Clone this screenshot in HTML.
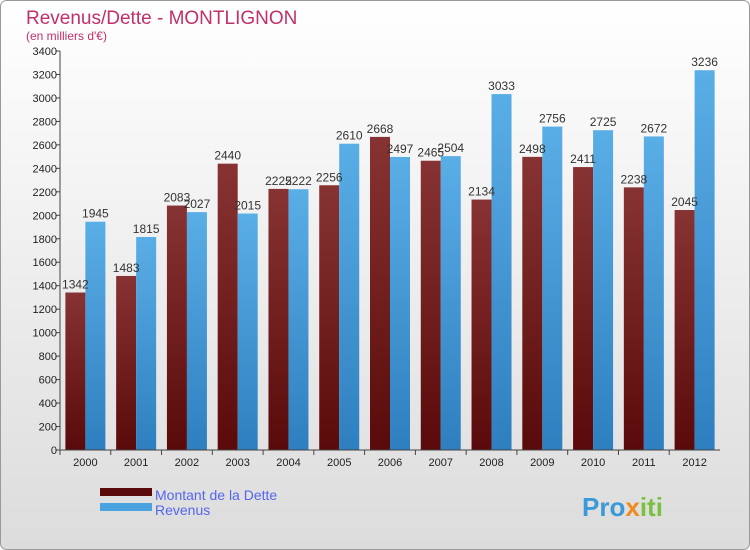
<!DOCTYPE html>
<html><head><meta charset="utf-8"><style>
body{margin:0;background:#fff}
svg{display:block;font-family:"Liberation Sans",sans-serif}
</style></head><body>
<svg id="chart" width="750" height="550">
<defs>
<linearGradient id="bg" x1="0" y1="0" x2="0" y2="1"><stop offset="0" stop-color="#ffffff"/><stop offset="1" stop-color="#dcdcdc"/></linearGradient>
<linearGradient id="red" x1="0" y1="0" x2="0" y2="1"><stop offset="0" stop-color="#873333"/><stop offset="1" stop-color="#5a0a0a"/></linearGradient>
<linearGradient id="blue" x1="0" y1="0" x2="0" y2="1"><stop offset="0" stop-color="#5aaee6"/><stop offset="1" stop-color="#2e7fbf"/></linearGradient>
</defs>
<rect x="0.5" y="0.5" width="749" height="549" rx="6" fill="url(#bg)" stroke="#999"/>
<text x="26" y="24" font-size="19" fill="#c0306a">Revenus/Dette - MONTLIGNON</text>
<text x="26" y="40" font-size="12" fill="#c0306a">(en milliers d'€)</text>
<g id="plot"></g>
<rect x="100" y="488" width="52" height="8" fill="#5a0a0a"/>
<text x="155" y="500" font-size="14" fill="#5566ee">Montant de la Dette</text>
<rect x="100" y="503" width="52" height="8" fill="#4aa3e0"/>
<text x="155" y="515" font-size="14" fill="#5566ee">Revenus</text>
<text x="582" y="516" font-size="26" font-weight="bold" fill="#3a9ad9">Pro<tspan fill="#f08a1c">x</tspan><tspan fill="#7ac143">iti</tspan></text>
</svg>
<script>
const years=["2000","2001","2002","2003","2004","2005","2006","2007","2008","2009","2010","2011","2012"];
const dette=[1342,1483,2083,2440,2225,2256,2668,2465,2134,2498,2411,2238,2045];
const revenus=[1945,1815,2027,2015,2222,2610,2497,2504,3033,2756,2725,2672,3236];
const yTicks=[0,200,400,600,800,1000,1200,1400,1600,1800,2000,2200,2400,2600,2800,3000,3200,3400];
const NS="http://www.w3.org/2000/svg";
const g=document.getElementById('plot');
const x0=60,x1=720,y0=450,y1=51,ymax=3400;
const y=v=>y0-(v/ymax)*(y0-y1);
const step=(x1-x0)/years.length;
const cx=i=>x0+step*(i+0.5);
function mk(t,a){const e=document.createElementNS(NS,t);for(const k in a)e.setAttribute(k,a[k]);g.appendChild(e);return e;}
let ax=mk('line',{x1:x0,y1:y1,x2:x0,y2:y0,stroke:'#444'});


yTicks.forEach(v=>{
 const t=mk('line',{x1:x0-4,x2:x0,y1:y(v),y2:y(v),stroke:'#444'});
 
 
 const l=mk('text',{x:x0-3,y:y(v)+4,'font-size':11,'text-anchor':'end',fill:'#222'});l.textContent=v;
 
 
});
years.forEach((yr,i)=>{
 const c=cx(i),bw=20;
 const r1=mk('rect',{x:c-bw,y:y(dette[i]),width:bw,height:y0-y(dette[i]),fill:'url(#red)'});
 
 
 const r2=mk('rect',{x:c,y:y(revenus[i]),width:bw,height:y0-y(revenus[i]),fill:'url(#blue)'});
 
 
 const t1=mk('text',{x:c-bw/2,y:y(dette[i])-4,'font-size':12,'text-anchor':'middle',fill:'#333'});t1.textContent=dette[i];
 
 
 const t2=mk('text',{x:c+bw/2,y:y(revenus[i])-4,'font-size':12,'text-anchor':'middle',fill:'#333'});t2.textContent=revenus[i];
 
 
 const tk=mk('line',{x1:x0+step*i,x2:x0+step*i,y1:y0,y2:y0+5,stroke:'#444'});
 
 
 const xl=mk('text',{x:c,y:y0+16,'font-size':11,'text-anchor':'middle',fill:'#222'});xl.textContent=yr;
 
 
});
let bx=mk('line',{x1:x0,y1:y0,x2:x1,y2:y0,stroke:'#444'});


</script>
</body></html>
